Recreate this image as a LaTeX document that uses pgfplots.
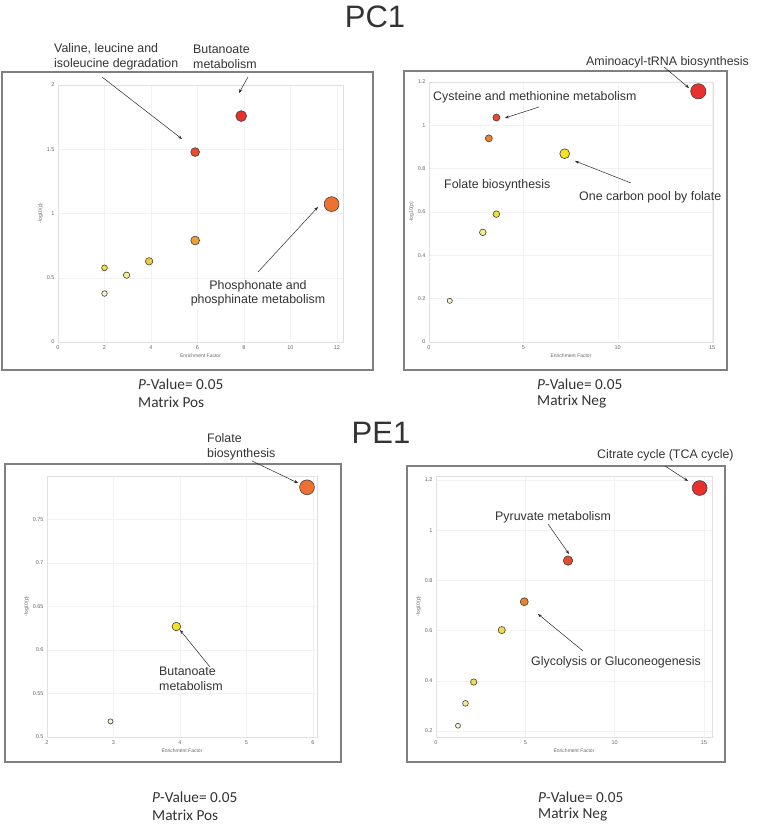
\documentclass[border=0pt]{standalone}
\usepackage{pgfplots}
\pgfplotsset{compat=1.18}
\usepackage{fontspec}
\setmainfont{Liberation Sans}
\newfontfamily\calibri{Carlito}
\usetikzlibrary{arrows.meta}
\definecolor{txt}{HTML}{333333}
\definecolor{pale}{HTML}{F7F3D2}
\definecolor{paleyel}{HTML}{F6EA96}
\definecolor{yel}{HTML}{F0DC46}
\definecolor{gold}{HTML}{F0CC3C}
\definecolor{brightyel}{HTML}{F5E224}
\definecolor{orng}{HTML}{EEA032}
\definecolor{dorng}{HTML}{E8822E}
\definecolor{orred}{HTML}{F07030}
\definecolor{redor}{HTML}{E84A30}
\definecolor{rd}{HTML}{E8302E}
\newcommand{\bub}[4]{\addplot[only marks, mark=*, mark size=#3, mark options={fill=#4, draw=black!75!yellow!60!black, line width=0.6pt}] coordinates {(#1,#2)};}
\pgfplotsset{
  panel/.style={
    scale only axis, clip=false,
    axis line style={draw=black!12},
    grid=major, major grid style={draw=black!5, line width=0.4pt},
    major tick length=0pt,
    tick label style={font=\fontsize{5.5}{6}\selectfont, text=black!60},
    /pgf/number format/assume math mode=true,
    yticklabel style={/pgf/number format/.cd, fixed, precision=2},
    xlabel={Enrichment Factor}, ylabel={-log10(p)},
    label style={font=\fontsize{5}{6}\selectfont, text=black!60},
    xlabel style={yshift=2pt}, ylabel style={yshift=-3pt},
  }
}
\begin{document}
\begin{tikzpicture}
\useasboundingbox (0pt,0pt) rectangle (756pt,826pt);
% titles
\node[font=\fontsize{31}{34}\selectfont, text=txt] at (375pt,809pt) {PC1};
\node[font=\fontsize{31}{34}\selectfont, text=txt] at (381pt,393pt) {PE1};
% frames
\draw[black!50, line width=1.2pt] (2pt,754pt) rectangle (373pt,456pt);
\draw[black!50, line width=1.2pt] (404pt,755pt) rectangle (727pt,456pt);
\draw[black!50, line width=1.2pt] (5pt,362pt) rectangle (341pt,64pt);
\draw[black!50, line width=1.2pt] (407pt,360pt) rectangle (725pt,64pt);

% ---------- TL ----------
\begin{axis}[panel, at={(58pt,484pt)}, anchor=south west, width=285pt, height=257pt,
  xmin=0, xmax=12.26, ymin=0, ymax=2,
  xtick={0,2,4,6,8,10,12}, ytick={0,0.5,1,1.5,2}]
\bub{2}{0.377}{2.8}{pale}
\bub{2}{0.577}{2.9}{yel}
\bub{2.95}{0.52}{3.2}{paleyel}
\bub{3.92}{0.628}{3.7}{gold}
\bub{5.9}{0.79}{4.4}{orng}
\bub{5.9}{1.478}{4.4}{redor}
\bub{7.88}{1.758}{5.4}{rd}
\bub{11.77}{1.073}{7.4}{orred}
\end{axis}
% ---------- TR ----------
\begin{axis}[panel, at={(429pt,484pt)}, anchor=south west, width=284pt, height=260pt,
  xmin=0, xmax=15.05, ymin=0, ymax=1.2,
  xtick={0,5,10,15}, ytick={0,0.2,0.4,0.6,0.8,1,1.2}]
\bub{1.1}{0.19}{2.6}{pale}
\bub{2.85}{0.506}{3.3}{paleyel}
\bub{3.57}{0.59}{3.3}{yel}
\bub{3.17}{0.94}{3.5}{dorng}
\bub{3.57}{1.036}{3.5}{redor}
\bub{7.19}{0.869}{4.9}{brightyel}
\bub{14.27}{1.157}{7.6}{rd}
\end{axis}
% ---------- BL ----------
\begin{axis}[panel, at={(47pt,89pt)}, anchor=south west, width=270pt, height=261pt,
  xmin=2, xmax=6.06, ymin=0.5, ymax=0.8,
  xtick={2,3,4,5,6}, ytick={0.5,0.55,0.6,0.65,0.7,0.75}]
\bub{2.955}{0.518}{2.5}{pale}
\bub{3.945}{0.627}{4.3}{brightyel}
\bub{5.91}{0.787}{7.4}{orred}
\end{axis}
% ---------- BR ----------
\begin{axis}[panel, at={(436pt,89pt)}, anchor=south west, width=276pt, height=261pt,
  xmin=0, xmax=15.45, ymin=0.176, ymax=1.216,
  xtick={0,5,10,15}, ytick={0.2,0.4,0.6,0.8,1,1.2}]
\bub{1.23}{0.221}{2.5}{pale}
\bub{1.65}{0.31}{2.9}{paleyel}
\bub{2.11}{0.395}{3.2}{yel}
\bub{3.68}{0.602}{3.6}{yel}
\bub{4.94}{0.715}{4.0}{dorng}
\bub{7.39}{0.879}{4.7}{redor}
\bub{14.76}{1.168}{7.4}{rd}
\end{axis}

% annotations
\begin{scope}[font=\fontsize{12.4}{14.5}\selectfont, text=txt]
\node[anchor=west, align=left, inner sep=0pt] at (54pt,769pt) {Valine, leucine and\\isoleucine degradation};
\node[anchor=west, align=left, inner sep=0pt] at (193pt,769pt) {Butanoate\\metabolism};
\node[align=center, inner sep=0pt] at (258pt,532.5pt) {Phosphonate and\\phosphinate metabolism};
\node[anchor=west, inner sep=0pt] at (586pt,764pt) {Aminoacyl-tRNA biosynthesis};
\node[anchor=west, inner sep=0pt] at (433pt,729pt) {Cysteine and methionine metabolism};
\node[anchor=west, inner sep=0pt] at (444pt,641pt) {Folate biosynthesis};
\node[anchor=west, inner sep=0pt] at (579pt,629pt) {One carbon pool by folate};
\node[anchor=west, align=left, inner sep=0pt] at (207pt,379pt) {Folate\\biosynthesis};
\node[anchor=west, align=left, inner sep=0pt] at (159pt,147pt) {Butanoate\\metabolism};
\node[anchor=west, inner sep=0pt] at (597pt,371pt) {Citrate cycle (TCA cycle)};
\node[anchor=west, inner sep=0pt] at (495pt,309pt) {Pyruvate metabolism};
\node[anchor=west, inner sep=0pt] at (531pt,164pt) {Glycolysis or Gluconeogenesis};
\end{scope}
\begin{scope}[-{Stealth[length=4pt,width=3pt]}, black!85, line width=0.5pt]
\draw (102pt,749pt) -- (182pt,687pt);
\draw (248pt,749pt) -- (239pt,733pt);
\draw (258pt,554pt) -- (318pt,619pt);
\draw (664pt,759pt) -- (689pt,738pt);
\draw (539pt,719pt) -- (505pt,708pt);
\draw (631pt,643pt) -- (575pt,665pt);
\draw (252pt,365pt) -- (298pt,343pt);
\draw (210pt,159pt) -- (180pt,196pt);
\draw (665pt,360pt) -- (688pt,345pt);
\draw (548pt,302pt) -- (569pt,272pt);
\draw (583pt,175pt) -- (538pt,212pt);
\end{scope}

% captions
\begin{scope}[font=\calibri\fontsize{15.3}{18}\selectfont, text=txt]
\node[anchor=west, inner sep=0pt] at (138pt,442pt) {\textit{P}-Value= 0.05};
\node[anchor=west, inner sep=0pt] at (138pt,424pt) {Matrix Pos};
\node[anchor=west, inner sep=0pt] at (537pt,442pt) {\textit{P}-Value= 0.05};
\node[anchor=west, inner sep=0pt] at (537pt,424pt) {Matrix Neg};
\node[anchor=west, inner sep=0pt] at (152pt,29pt) {\textit{P}-Value= 0.05};
\node[anchor=west, inner sep=0pt] at (152pt,11pt) {Matrix Pos};
\node[anchor=west, inner sep=0pt] at (538pt,29pt) {\textit{P}-Value= 0.05};
\node[anchor=west, inner sep=0pt] at (538pt,11pt) {Matrix Neg};
\end{scope}
\end{tikzpicture}
\end{document}
